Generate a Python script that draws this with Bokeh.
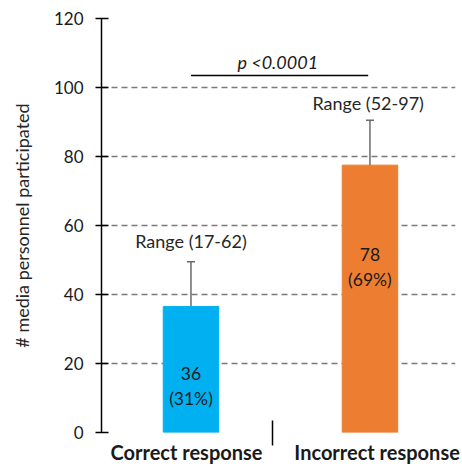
from bokeh.plotting import figure
from bokeh.models import (Range1d, FixedTicker, LinearAxis, ColumnDataSource,
                          Whisker, TeeHead)
from bokeh.core.properties import value
from bokeh.embed import file_html
from bokeh.resources import INLINE

# ---- data ----
categories = ["Correct response", "Incorrect response"]
counts = [36.5, 77.5]
count_labels = ["36", "78"]
percent_labels = ["(31%)", "(69%)"]
range_low = [23.5, 64.5]
range_high = [49.5, 90.5]
range_labels = ["Range (17-62)", "Range (52-97)"]
p_label = "p <0.0001"
y_ticks = [0, 20, 40, 60, 80, 100, 120]

x_pos = [0.5, 1.5]
FONT = "Lato"

p = figure(width=462, height=466, output_backend="svg", toolbar_location=None,
           x_range=Range1d(0, 1.978), y_range=Range1d(0, 120),
           x_axis_location=None, y_axis_location=None,
           min_border_left=101, min_border_right=7, min_border_top=18,
           min_border_bottom=32)
p.outline_line_color = None
p.background_fill_color = "white"
p.border_fill_color = "white"

# grid
p.xgrid.visible = False
p.ygrid.ticker = FixedTicker(ticks=y_ticks)
p.ygrid.grid_line_color = "#7a7a7a"
p.ygrid.grid_line_width = 1.5
p.ygrid.grid_line_dash = "6 4"

# y axis
yax = LinearAxis(ticker=FixedTicker(ticks=y_ticks))
yax.axis_line_color = "black"
yax.axis_line_width = 1.5
yax.major_tick_line_color = "black"
yax.major_tick_line_width = 1.5
yax.major_tick_in = 7
yax.major_tick_out = 6
yax.minor_tick_line_color = None
yax.major_label_text_font = FONT
yax.major_label_text_font_size = "17px"
yax.major_label_text_color = "#1a1a1a"
yax.major_label_standoff = 12
yax.axis_label = "# media personnel participated"
yax.axis_label_text_font = FONT
yax.axis_label_text_font_size = "18px"
yax.axis_label_text_font_style = "normal"
yax.axis_label_text_color = "#262626"
yax.axis_label_standoff = 18
p.add_layout(yax, "left")

# x axis (category labels + divider tick)
xax = LinearAxis(ticker=FixedTicker(ticks=[0.475, 1.54], minor_ticks=[0.958]))
xax.axis_line_color = None
xax.major_tick_line_color = None
xax.major_tick_in = 0
xax.major_tick_out = 0
xax.minor_tick_line_color = "black"
xax.minor_tick_line_width = 1.5
xax.minor_tick_in = 12
xax.minor_tick_out = 13
xax.major_label_overrides = {0.475: categories[0], 1.54: categories[1]}
xax.major_label_text_font = FONT
xax.major_label_text_font_size = "20px"
xax.major_label_text_font_style = "bold"
xax.major_label_text_color = "#1a1a1a"
xax.major_label_standoff = -6
p.add_layout(xax, "below")

# bars
src = ColumnDataSource(dict(x=x_pos, top=counts, low=range_low, high=range_high,
                            color=["#00B0F0", "#ED7D31"]))
p.vbar(x="x", top="top", width=0.31, bottom=0, color="color", source=src)

# error bars
w = Whisker(base="x", lower="low", upper="high", source=src,
            line_color="#6b6b6b", line_width=1.5,
            upper_head=TeeHead(size=8, line_color="#6b6b6b", line_width=1.5),
            lower_head=TeeHead(size=8, line_color="#6b6b6b", line_width=1.5))
p.add_layout(w)

# bar labels
p.text(x=x_pos, y=[17.0, 51.6], text=count_labels, text_align="center",
       text_baseline="middle", text_font=value(FONT), text_font_size="17.5px",
       text_color="#1a1a1a")
p.text(x=x_pos, y=[9.8, 44.4], text=percent_labels, text_align="center",
       text_baseline="middle", text_font=value(FONT), text_font_size="17.5px",
       text_color="#1a1a1a")

# range labels
p.text(x=[0.5, 1.49], y=[55.5, 95.4], text=range_labels, text_align="center",
       text_baseline="middle", text_font=value(FONT), text_font_size="18px",
       text_color="#262626")

# significance bar
p.segment(x0=[0.5], y0=[103.5], x1=[1.49], y1=[103.5], line_color="black",
          line_width=1.5)
p.text(x=[0.985], y=[107.4], text=[p_label], text_align="center",
       text_baseline="middle", text_font=value(FONT), text_font_size="18px",
       text_font_style="italic", text_color="#1a1a1a")

open("out.html", "w").write(file_html(p, INLINE))
